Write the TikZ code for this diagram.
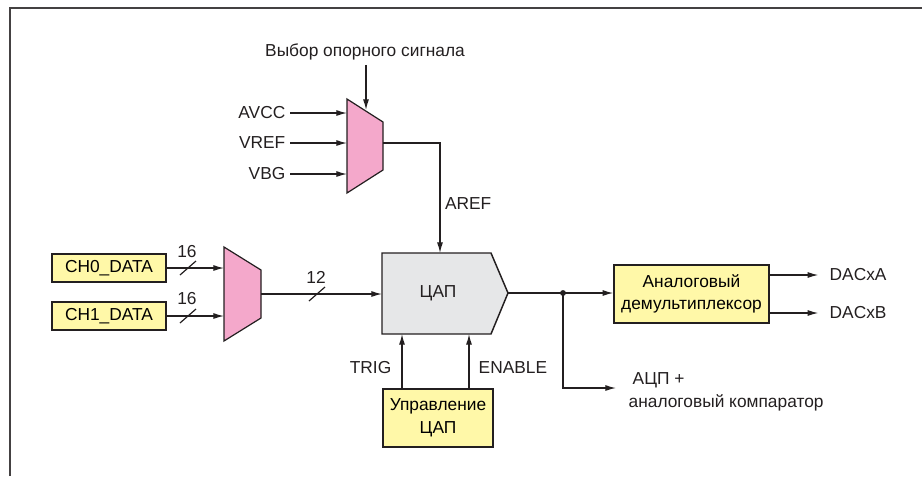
\documentclass[tikz,border=0pt]{standalone}
\usepackage{fontspec}
\setmainfont{Liberation Sans}
\usetikzlibrary{arrows.meta, calc}
\definecolor{muxpink}{HTML}{F4A8CB}
\definecolor{boxyellow}{HTML}{FFF8A8}
\definecolor{dacgray}{HTML}{E6E7E8}
\definecolor{ink}{HTML}{231F20}
\tikzset{
    sig/.style={draw=ink, line width=0.9pt, -{Latex[length=8pt, width=4.5pt]}},
    wire/.style={draw=ink, line width=0.9pt},
    blk/.style={draw=ink, line width=1.1pt, fill=boxyellow, align=center, inner sep=1pt},
    lbl/.style={text=ink, inner sep=3.33pt}
}

\begin{document}
\begin{tikzpicture}[x=0.75pt, y=-0.75pt, font=\fontsize{13}{17}\selectfont]
    \useasboundingbox (0,0) rectangle (922,476);
    % Frame
    \draw[ink!85, line width=1.6pt] (10,476) -- (10,8) -- (922,8);

    % Reference multiplexer
    \filldraw[fill=muxpink, draw=ink, line width=0.9pt] (347,99) -- (383,122) -- (383,170) -- (347,193) -- cycle;
    \coordinate (rsel) at (366,110);
    \coordinate (rin0) at (347,113);
    \coordinate (rin1) at (347,143);
    \coordinate (rin2) at (347,174);
    \coordinate (rout) at (383,143);
    \node[lbl] (selname) at (365,52) {Выбор опорного сигнала};
    \node[lbl, anchor=east] (avcc) at (290,113) {AVCC};
    \node[lbl, anchor=east] (vref) at (290,143) {VREF};
    \node[lbl, anchor=east] (vbg) at (290,174) {VBG};
    \draw[sig] (selname.south -| rsel) -- (rsel);
    \draw[sig] (avcc.east) -- (rin0);
    \draw[sig] (vref.east) -- (rin1);
    \draw[sig] (vbg.east) -- (rin2);

    % DAC
    \filldraw[fill=dacgray, draw=ink, line width=1.1pt] (382,253) -- (491,253) -- (508,293) -- (491,334) -- (382,334) -- cycle;
    \node[lbl] (dac) at (438,293) {ЦАП};
    \coordinate (dacin) at (382,294);
    \coordinate (dactop) at (440,253);
    \coordinate (dactrig) at (402,334);
    \coordinate (dacen) at (469,334);
    \coordinate (dacout) at (508,293);
    \draw[sig] (rout) -| (dactop) node[lbl, pos=0.775, anchor=west] (aref) {AREF};

    % Data multiplexer
    \node[blk, minimum width=85.5pt, minimum height=21pt] (ch0) at (109,268) {CH0\_DATA};
    \node[blk, minimum width=85.5pt, minimum height=21pt] (ch1) at (109,316) {CH1\_DATA};
    \filldraw[fill=muxpink, draw=ink, line width=0.9pt] (224,247) -- (261,270) -- (261,318) -- (224,341) -- cycle;
    \coordinate (din0) at (224,268);
    \coordinate (din1) at (224,316);
    \coordinate (dout) at (261,294);
    \draw[sig] (ch0.east) -- (din0);
    \draw[sig] (ch1.east) -- (din1);
    \draw[sig] (dout) -- (dacin);
    \draw[wire] (180,275) -- ++(16,-14);
    \draw[wire] (180,323) -- ++(16,-14);
    \draw[wire] (309,301) -- ++(16,-14);
    \node[lbl] (w16a) at (187,252) {16};
    \node[lbl] (w16b) at (187,299) {16};
    \node[lbl] (w12) at (316,277) {12};

    % DAC control
    \node[blk, minimum width=82.5pt, minimum height=43.5pt] (ctrl) at (438,418) {Управление\\ЦАП};
    \draw[sig] (ctrl.north -| dactrig) -- (dactrig);
    \draw[sig] (ctrl.north -| dacen) -- (dacen);
    \node[lbl, anchor=east] (trig) at (396,368) {TRIG};
    \node[lbl, anchor=west] (enable) at (474,368) {ENABLE};

    % Outputs
    \node[blk, minimum width=116.25pt, minimum height=43.5pt] (demux) at (691.5,294) {Аналоговый\\демультиплексор};
    \coordinate (split) at (563,293);
    \coordinate (adc) at (616,388);
    \draw[sig] (dacout) -- (demux.west |- dacout);
    \fill[ink] (split) circle (2.2pt);
    \draw[sig] (split) |- (adc);
    \node[lbl, anchor=west, align=left] (adclbl) at (624,392) {\hspace*{3pt}АЦП +\\аналоговый компаратор};
    \node[lbl, anchor=west] (outa) at (825,275) {DACxA};
    \node[lbl, anchor=west] (outb) at (825,313) {DACxB};
    \draw[sig] (demux.east |- outa) -- ([xshift=-5pt]outa.west);
    \draw[sig] (demux.east |- outb) -- ([xshift=-5pt]outb.west);
\end{tikzpicture}
\end{document}
